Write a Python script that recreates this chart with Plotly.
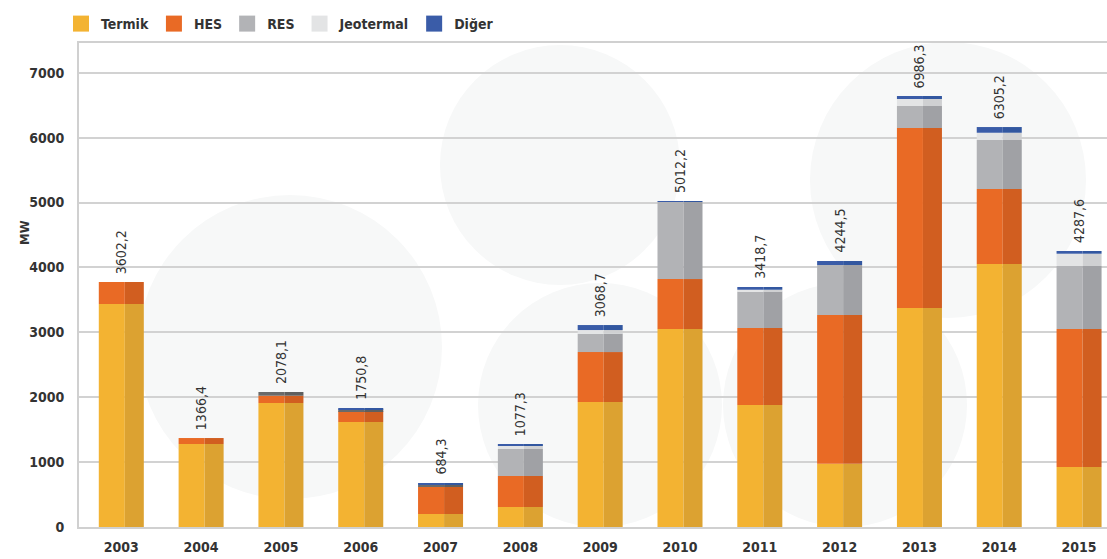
import plotly.graph_objects as go

years = ["2003", "2004", "2005", "2006", "2007", "2008", "2009",
         "2010", "2011", "2012", "2013", "2014", "2015"]

termik = [3436, 1279, 1911, 1618, 200, 308, 1926, 3051, 1880, 975, 3374, 4052, 924]
hes = [339, 92, 112, 169, 416, 478, 770, 770, 1186, 2292, 2774, 1156, 2127]
res = [0, 0, 57, 26, 31, 416, 282, 1187, 560, 770, 339, 755, 971]
jeotermal = [0, 0, 0, 0, 0, 51, 57, 0, 30, 0, 108, 112, 189]
diger = [0, 0, 0, 21, 31, 26, 77, 15, 42, 62, 46, 88, 42]

total_labels = ["3602,2", "1366,4", "2078,1", "1750,8", "684,3", "1077,3", "3068,7",
                "5012,2", "3418,7", "4244,5", "6986,3", "6305,2", "4287,6"]

series = [
    ("Termik", termik, "#f3b332", "#dca231"),
    ("HES", hes, "#e96a25", "#d15e20"),
    ("RES", res, "#b2b3b6", "#a0a1a5"),
    ("Jeotermal", jeotermal, "#e3e4e5", "#cfd0d2"),
    ("Diğer", diger, "#3a5ca8", "#3257a0"),
]

# early years show a dark grey band in the RES slot
res_dark_years = {"2005", "2006", "2007"}

FONT = "DejaVu Sans Condensed"
W, H = 1107, 559
L, R, T, B = 79, 0, 43, 32
PW, PH = W - L - R, H - T - B

fig = go.Figure()

base = [0] * len(years)
for name, vals, light, dark in series:
    lc, dc = light, dark
    if name == "RES":
        lc = ["#6a6a6a" if y in res_dark_years else light for y in years]
        dc = ["#5f5f5f" if y in res_dark_years else dark for y in years]
    fig.add_trace(go.Bar(x=years, y=vals, base=base, offset=-0.282, width=0.326,
                         marker=dict(color=lc, line=dict(width=0)),
                         showlegend=False, hoverinfo="skip"))
    fig.add_trace(go.Bar(x=years, y=vals, base=base, offset=0.044, width=0.238,
                         marker=dict(color=dc, line=dict(width=0)),
                         showlegend=False, hoverinfo="skip"))
    base = [b + v for b, v in zip(base, vals)]
    # legend entry
    fig.add_trace(go.Scatter(x=[None], y=[None], mode="markers", name=name,
                             marker=dict(symbol="square", size=17, color=light)))

for i, (top, txt) in enumerate(zip(base, total_labels)):
    fig.add_annotation(x=i, y=top, text=txt, textangle=-90, showarrow=False,
                       xanchor="center", yanchor="bottom", yshift=6,
                       font=dict(family=FONT, size=14, color="#333333"))

fig.add_annotation(xref="paper", yref="paper", x=(24 - L) / PW, y=1 - (233 - T) / PH,
                   xanchor="center", yanchor="middle",
                   text="MW", textangle=-90, showarrow=False,
                   font=dict(family=FONT, size=13, color="#333333", weight="bold"))


def circle(cx, cy, r):
    return dict(type="circle", xref="paper", yref="paper", layer="below",
                x0=(cx - r - L) / PW, x1=(cx + r - L) / PW,
                y0=1 - (cy + r - T) / PH, y1=1 - (cy - r - T) / PH,
                fillcolor="#f7f8f8", line=dict(width=0))


fig.update_layout(
    width=W, height=H,
    margin=dict(l=L, r=R, t=T, b=B, autoexpand=False),
    barmode="overlay",
    plot_bgcolor="rgba(0,0,0,0)", paper_bgcolor="white",
    font=dict(family=FONT, color="#333333"),
    shapes=[circle(290, 347, 152), circle(560, 165, 120), circle(600, 405, 122),
            circle(845, 405, 122), circle(948, 180, 138)],
    legend=dict(orientation="h", x=(61 - L) / PW, xanchor="left",
                y=1 + (T - 8) / PH, yanchor="top",
                font=dict(family=FONT, size=14, color="#333333", weight="bold"),
                bgcolor="rgba(0,0,0,0)", itemclick=False),
    xaxis=dict(type="category", range=[-0.53, 12.35], showgrid=False,
               showline=True, linecolor="#d0d0d0", linewidth=2, mirror=True,
               ticks="", tickfont=dict(family=FONT, size=14, color="#333333", weight="bold"),
               ticklabelstandoff=6),
    yaxis=dict(range=[0, 7458], tickvals=[0, 1000, 2000, 3000, 4000, 5000, 6000, 7000],
               showgrid=True, gridcolor="#d2d2d2", gridwidth=1.5,
               showline=True, linecolor="#d0d0d0", linewidth=2, zeroline=False,
               ticks="", tickfont=dict(family=FONT, size=14, color="#333333", weight="bold"),
               ticklabelstandoff=10),
)

fig.write_html("out.html", config={"displayModeBar": False},
               post_script="document.body.style.margin='0';")
